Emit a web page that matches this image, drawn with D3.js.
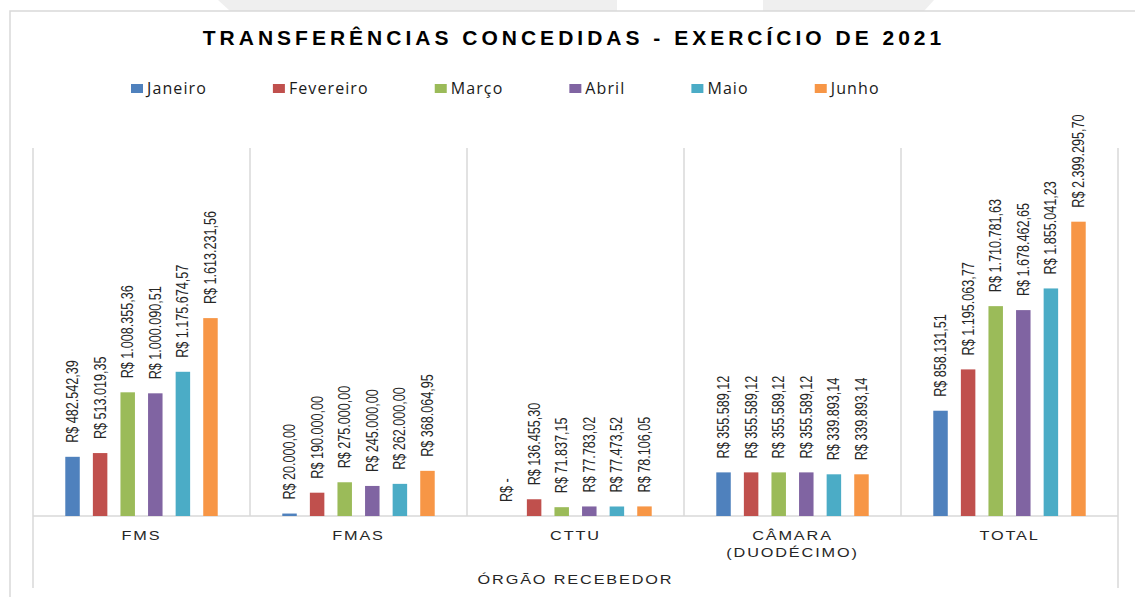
<!DOCTYPE html>
<html><head><meta charset="utf-8">
<script src="https://cdn.jsdelivr.net/npm/d3@7"></script>
<style>html,body{margin:0;padding:0;background:#fff;}svg{display:block;}</style>
</head><body>
<svg id="chart" width="1135" height="597"></svg>
<script>
const categories = ["FMS", "FMAS", "CTTU", "CÂMARA (DUODÉCIMO)", "TOTAL"];
const categoryLines = [["FMS"], ["FMAS"], ["CTTU"], ["CÂMARA", "(DUODÉCIMO)"], ["TOTAL"]];
const months = ["Janeiro", "Fevereiro", "Março", "Abril", "Maio", "Junho"];
const janeiro   = [482542.39, 20000.00, 0, 355589.12, 858131.51];
const fevereiro = [513019.35, 190000.00, 136455.30, 355589.12, 1195063.77];
const marco     = [1008355.36, 275000.00, 71837.15, 355589.12, 1710781.63];
const abril     = [1000090.51, 245000.00, 77783.02, 355589.12, 1678462.65];
const maio      = [1175674.57, 262000.00, 77473.52, 339893.14, 1855041.23];
const junho     = [1613231.56, 368064.95, 78106.05, 339893.14, 2399295.70];
const seriesValues = [janeiro, fevereiro, marco, abril, maio, junho];
const colors = ["#4f81bd", "#c0504d", "#9bbb59", "#8064a2", "#4bacc6", "#f79646"];
const yMax = 3000000;
const titleText = "TRANSFERÊNCIAS CONCEDIDAS - EXERCÍCIO DE 2021";
const axisTitle = "ÓRGÃO RECEBEDOR";

const svg = d3.select("#chart");
const grid = "#d9d9d9";

// background decorations above the chart frame
svg.append("polygon").attr("points", "218,0 617,0 617,11 230,11").attr("fill", "#efefef");
svg.append("polygon").attr("points", "763,0 934,0 924,11 763,11").attr("fill", "#efefef");
// chart frame
svg.append("rect").attr("x", 10).attr("y", 11).attr("width", 1140).attr("height", 600)
  .attr("fill", "#fff").attr("stroke", grid).attr("stroke-width", 1.5);

const plotL = 33, plotR = 1118, plotT = 148, plotB = 516;
const x0 = d3.scaleBand().domain(categories).range([plotL, plotR]).padding(0);
const x1 = d3.scaleBand().domain(months).range([0, x0.bandwidth()]).paddingInner(0.475).paddingOuter(1.17);
const y = d3.scaleLinear().domain([0, yMax]).range([plotB, plotT]);

const locale = d3.formatLocale({decimal: ",", thousands: ".", grouping: [3], currency: ["R$ ", ""]});
const fmt = locale.format("$,.2f");
const label = v => v === 0 ? "R$ -" : fmt(v);

// title
svg.append("text").attr("x", 574).attr("y", 45).attr("text-anchor", "middle")
  .attr("font-family", "'Liberation Sans', Arial, sans-serif").attr("font-weight", "bold")
  .attr("font-size", 21).attr("letter-spacing", 4).attr("fill", "#000").text(titleText);

// legend
let lx = 131;
months.forEach((m, i) => {
  const g = svg.append("g");
  g.append("rect").attr("x", lx).attr("y", 84).attr("width", 12).attr("height", 9).attr("fill", colors[i]);
  const t = g.append("text").attr("x", lx + 16).attr("y", 93.5)
    .attr("font-family", "'Open Sans', sans-serif").attr("font-size", 16).attr("letter-spacing", 1.1)
    .attr("fill", "#1a1a1a").text(m);
  lx += 16 + t.node().getComputedTextLength() + 66;
});

// vertical separators
const edges = categories.map(c => x0(c)).concat([plotR]);
edges.forEach((ex, i) => {
  const outer = i === 0 || i === edges.length - 1;
  svg.append("line").attr("x1", ex).attr("x2", ex).attr("y1", plotT).attr("y2", outer ? 588 : plotB)
    .attr("stroke", grid).attr("stroke-width", 1.5);
});
// baseline
svg.append("line").attr("x1", plotL).attr("x2", plotR).attr("y1", y(0)).attr("y2", y(0))
  .attr("stroke", grid).attr("stroke-width", 1.5);

// bars and labels
categories.forEach((c, ci) => {
  months.forEach((m, mi) => {
    const v = seriesValues[mi][ci];
    const bx = x0(c) + x1(m);
    svg.append("rect").attr("x", bx).attr("y", y(v)).attr("width", x1.bandwidth())
      .attr("height", y(0) - y(v)).attr("fill", colors[mi]);
    const cx = bx + x1.bandwidth() / 2;
    svg.append("text")
      .attr("transform", `translate(${cx},${y(v) - 14}) rotate(-90) scale(1,1.25)`)
      .attr("dy", "0.35em").attr("text-anchor", "start")
      .attr("font-family", "'Liberation Sans', Arial, sans-serif").attr("font-size", 12.6)
      .attr("fill", "#262626").text(label(v));
  });
});

// category labels
categories.forEach((c, ci) => {
  const cx = x0(c) + x0.bandwidth() / 2;
  categoryLines[ci].forEach((ln, li) => {
    svg.append("text").attr("transform", `translate(${cx},${539.5 + li * 17}) scale(1.25,1)`)
      .attr("text-anchor", "middle").attr("font-family", "'Liberation Sans', Arial, sans-serif")
      .attr("font-size", 13).attr("letter-spacing", 1.5).attr("fill", "#262626").text(ln);
  });
});

// axis title
svg.append("text").attr("transform", `translate(${(plotL + plotR) / 2},584) scale(1.25,1)`)
  .attr("text-anchor", "middle").attr("font-family", "'Liberation Sans', Arial, sans-serif")
  .attr("font-size", 13).attr("letter-spacing", 1.5).attr("fill", "#262626").text(axisTitle);
</script>
</body></html>
